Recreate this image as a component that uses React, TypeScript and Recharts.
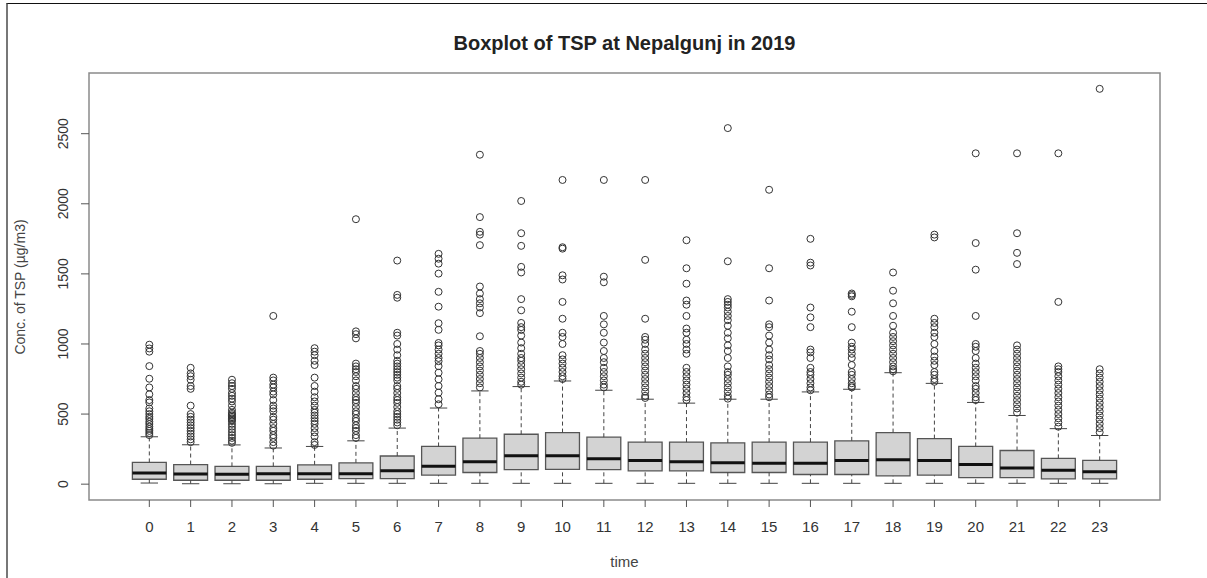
import {
  ComposedChart,
  XAxis,
  YAxis,
  Scatter,
  ReferenceArea,
  ReferenceLine
} from 'recharts'

// hourly TSP distribution
const HOURS = [0, 1, 2, 3, 4, 5, 6, 7, 8, 9, 10, 11, 12, 13, 14, 15, 16, 17, 18, 19, 20, 21, 22, 23]

const LOWER  = [8, 3, 3, 3, 6, 6, 6, 6, 6, 6, 6, 6, 6, 6, 6, 6, 6, 6, 6, 6, 6, 6, 6, 6]
const Q1     = [35, 28, 28, 28, 35, 40, 40, 64, 83, 104, 106, 104, 95, 95, 83, 83, 69, 69, 59, 64, 47, 47, 38, 38]
const MEDIAN = [80, 72, 70, 74, 74, 75, 95, 127, 160, 203, 203, 182, 168, 160, 153, 149, 149, 168, 175, 168, 141, 116, 99, 88]
const Q3     = [155, 140, 127, 127, 138, 152, 201, 269, 328, 356, 368, 335, 300, 300, 295, 300, 300, 309, 368, 325, 269, 240, 184, 170]
const UPPER  = [338, 281, 280, 258, 269, 309, 400, 543, 665, 696, 736, 670, 606, 578, 606, 606, 658, 677, 795, 719, 583, 490, 396, 347]

const OUTLIERS = [
  [995, 968, 945, 842, 752, 690, 641, 600, 583, 540, 520, 500, 480, 465, 445, 429, 410, 394, 380, 365, 350],
  [830, 790, 770, 745, 700, 680, 560, 500, 480, 460, 440, 420, 400, 380, 360, 340, 320, 300],
  [745, 720, 700, 680, 650, 630, 610, 590, 560, 530, 510, 500, 490, 480, 470, 460, 450, 430, 410, 390, 370, 350, 330, 310, 295],
  [1200, 760, 740, 710, 690, 660, 640, 600, 560, 540, 520, 480, 460, 430, 400, 380, 350, 330, 300, 275],
  [970, 945, 920, 880, 850, 760, 700, 660, 620, 590, 560, 530, 510, 490, 470, 450, 430, 400, 370, 340, 300, 280],
  [1890, 1090, 1070, 1040, 860, 840, 820, 800, 770, 740, 700, 680, 650, 620, 600, 580, 550, 520, 500, 470, 450, 420, 400, 380, 350, 330],
  [1595, 1350, 1330, 1080, 1060, 1000, 960, 920, 880, 860, 840, 820, 800, 780, 760, 740, 700, 680, 650, 620, 600, 580, 550, 520, 500, 480, 460, 440, 420],
  [1643, 1608, 1573, 1502, 1372, 1266, 1148, 1101, 1007, 990, 960, 930, 900, 877, 842, 795, 748, 700, 653, 606, 570],
  [2350, 1905, 1800, 1780, 1705, 1410, 1360, 1320, 1290, 1260, 1220, 1055, 950, 930, 900, 870, 840, 810, 780, 750, 720, 690],
  [2020, 1790, 1700, 1550, 1510, 1320, 1240, 1150, 1120, 1100, 1060, 1010, 970, 930, 900, 880, 850, 820, 790, 760, 730, 710],
  [2170, 1690, 1680, 1490, 1460, 1300, 1180, 1080, 1050, 1000, 920, 890, 860, 830, 800, 770, 750],
  [2170, 1480, 1440, 1200, 1140, 1080, 1010, 950, 900, 870, 830, 800, 770, 740, 710, 690],
  [2170, 1600, 1180, 1050, 1030, 1000, 960, 930, 900, 870, 840, 810, 780, 750, 720, 690, 660, 630, 615],
  [1740, 1540, 1430, 1310, 1280, 1200, 1110, 1080, 1030, 1000, 960, 930, 830, 800, 770, 740, 710, 680, 650, 620, 600],
  [2540, 1590, 1320, 1300, 1280, 1260, 1230, 1200, 1170, 1130, 1080, 1040, 990, 950, 900, 840, 800, 780, 750, 720, 690, 660, 630, 610],
  [2100, 1540, 1310, 1140, 1120, 1060, 1010, 960, 920, 890, 850, 820, 790, 760, 730, 700, 670, 640, 620],
  [1750, 1580, 1560, 1260, 1190, 1120, 960, 940, 900, 830, 800, 780, 750, 720, 690, 670],
  [1360, 1350, 1340, 1230, 1120, 1010, 980, 960, 930, 900, 850, 800, 780, 750, 720, 700, 690],
  [1510, 1380, 1290, 1200, 1130, 1080, 1050, 1020, 990, 960, 930, 900, 870, 840, 820, 805],
  [1780, 1760, 1180, 1150, 1120, 1080, 1050, 1000, 950, 910, 880, 850, 800, 780, 750, 730],
  [2360, 1720, 1530, 1200, 1000, 980, 950, 900, 860, 830, 800, 770, 740, 700, 680, 650, 620, 600],
  [2360, 1790, 1650, 1570, 990, 960, 930, 900, 870, 840, 810, 780, 750, 720, 690, 660, 630, 600, 570, 540, 510],
  [2360, 1300, 840, 820, 800, 770, 740, 710, 680, 650, 620, 590, 560, 530, 500, 470, 440, 410],
  [2820, 820, 790, 760, 730, 700, 670, 640, 610, 580, 550, 520, 490, 460, 430, 400, 370]
]

const Y_TICKS = [0, 500, 1000, 1500, 2000, 2500]

// R pads the axis range by 4% on each side
const X_DOMAIN = [-1.46, 24.46]
const Y_DOMAIN = [-113, 2933]

const BOX_HALF = 0.41
const CAP_HALF = 0.21
const FONT = 'Liberation Sans, Arial, Helvetica, sans-serif'

const outlierPoints = HOURS.flatMap((h, i) => OUTLIERS[i].map(v => ({ x: h, y: v })))

function OpenCircle(props: any) {
  return <circle cx={props.cx} cy={props.cy} r={3.5} fill="none" stroke="#333" strokeWidth={1} />
}

function YTick({ x, y, payload }: any) {
  const tx = x - 11
  return (
    <text x={tx} y={y} transform={`rotate(-90 ${tx} ${y})`} textAnchor="middle"
      fontSize={14} fill="#333" fontFamily={FONT}>
      {payload.value}
    </text>
  )
}

export default function App() {
  return (
    <div style={{ position: 'absolute', left: 0, top: 0, width: 1207, height: 578, background: '#fff', fontFamily: FONT }}>
      {/* frame round the picture */}
      <div style={{ position: 'absolute', left: 6, top: 3, width: 1201, height: 575, borderTop: '1px solid #111', borderLeft: '2px solid #777', boxSizing: 'border-box' }} />

      <div style={{ position: 'absolute', left: 0, width: 1249, top: 32, textAlign: 'center', fontWeight: 'bold', fontSize: 20, color: '#222' }}>
        Boxplot of TSP at Nepalgunj in 2019
      </div>

      <div style={{ position: 'absolute', left: 20, top: 287, width: 0, height: 0 }}>
        <div style={{ position: 'absolute', transform: 'translate(-50%, -50%) rotate(-90deg)', whiteSpace: 'nowrap', fontSize: 14, color: '#444' }}>
          Conc. of TSP (µg/m3)
        </div>
      </div>

      <div style={{ position: 'absolute', left: 0, width: 1249, top: 553, textAlign: 'center', fontSize: 15, color: '#444' }}>
        time
      </div>

      <ComposedChart width={1207} height={578} margin={{ top: 73, right: 47, bottom: 38, left: 29 }}>
        <XAxis
          type="number"
          dataKey="x"
          domain={X_DOMAIN}
          ticks={HOURS}
          interval={0}
          allowDataOverflow
          height={40}
          axisLine={false}
          tickSize={7}
          tickMargin={14}
          tickLine={{ stroke: '#555' }}
          tick={{ fontSize: 15, fill: '#333', fontFamily: FONT }}
        />
        <YAxis
          type="number"
          dataKey="y"
          domain={Y_DOMAIN}
          ticks={Y_TICKS}
          interval={0}
          allowDataOverflow
          width={60}
          axisLine={false}
          tickSize={8}
          tickLine={{ stroke: '#555' }}
          tick={<YTick />}
        />

        {/* plot frame */}
        <ReferenceArea x1={X_DOMAIN[0]} x2={X_DOMAIN[1]} y1={Y_DOMAIN[0]} y2={Y_DOMAIN[1]}
          fill="none" stroke="#8a8a8a" strokeWidth={1.5} />

        {HOURS.map((h, i) => (
          <ReferenceLine key={`wu${h}`} segment={[{ x: h, y: Q3[i] }, { x: h, y: UPPER[i] }]}
            stroke="#444" strokeDasharray="4 3" />
        ))}
        {HOURS.map((h, i) => (
          <ReferenceLine key={`wl${h}`} segment={[{ x: h, y: LOWER[i] }, { x: h, y: Q1[i] }]}
            stroke="#444" strokeDasharray="4 3" />
        ))}
        {HOURS.map((h, i) => (
          <ReferenceLine key={`cu${h}`} segment={[{ x: h - CAP_HALF, y: UPPER[i] }, { x: h + CAP_HALF, y: UPPER[i] }]}
            stroke="#444" />
        ))}
        {HOURS.map((h, i) => (
          <ReferenceLine key={`cl${h}`} segment={[{ x: h - CAP_HALF, y: LOWER[i] }, { x: h + CAP_HALF, y: LOWER[i] }]}
            stroke="#444" />
        ))}
        {HOURS.map((h, i) => (
          <ReferenceArea key={`b${h}`} x1={h - BOX_HALF} x2={h + BOX_HALF} y1={Q1[i]} y2={Q3[i]}
            fill="#d3d3d3" fillOpacity={1} stroke="#555" strokeWidth={1.3} />
        ))}
        {HOURS.map((h, i) => (
          <ReferenceLine key={`m${h}`} segment={[{ x: h - BOX_HALF, y: MEDIAN[i] }, { x: h + BOX_HALF, y: MEDIAN[i] }]}
            stroke="#111" strokeWidth={3} />
        ))}

        <Scatter data={outlierPoints} shape={<OpenCircle />} isAnimationActive={false} />
      </ComposedChart>
    </div>
  )
}
